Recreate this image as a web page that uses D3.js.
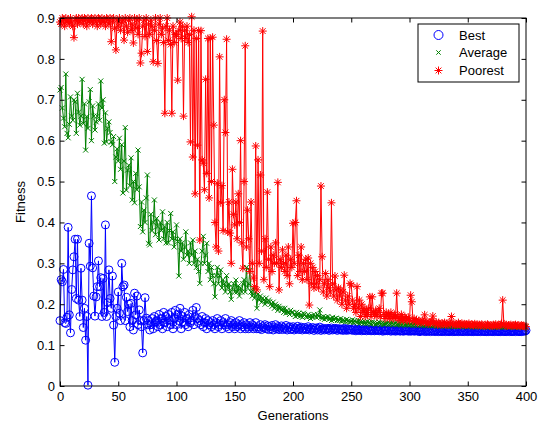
<!DOCTYPE html>
<html>
<head>
<meta charset="utf-8">
<script src="https://cdn.jsdelivr.net/npm/d3@7.9.0/dist/d3.min.js"></script>
<style>
  body { margin: 0; background: #fff; }
  svg { display: block; }
  text { font-family: "Liberation Sans", Arial, sans-serif; font-size: 13px; fill: #000; }
</style>
</head>
<body>
<div id="chart"></div>
<script>
// fitness per generation, index = generation 0..400
const best = [
  0.16, 0.26, 0.255, 0.285, 0.155, 0.153, 0.168, 0.388, 0.174, 0.13,
  0.236, 0.284, 0.316, 0.359, 0.214, 0.359, 0.21, 0.17, 0.288, 0.21,
  0.143, 0.19, 0.112, 0.17, 0.002, 0.349, 0.293, 0.465, 0.289, 0.22,
  0.171, 0.218, 0.243, 0.306, 0.243, 0.265, 0.17, 0.263, 0.18, 0.394,
  0.17, 0.204, 0.284, 0.214, 0.19, 0.269, 0.149, 0.058, 0.17, 0.19,
  0.23, 0.178, 0.16, 0.30, 0.243, 0.247, 0.16, 0.217, 0.182, 0.2,
  0.145, 0.202, 0.16, 0.137, 0.227, 0.174, 0.22, 0.15, 0.186, 0.16,
  0.145, 0.081, 0.16, 0.216, 0.166, 0.15, 0.16, 0.137, 0.15, 0.165,
  0.14, 0.17, 0.155, 0.16, 0.145, 0.175, 0.15, 0.165, 0.14, 0.18,
  0.155, 0.17, 0.145, 0.175, 0.16, 0.15, 0.18, 0.14, 0.165, 0.185,
  0.15, 0.175, 0.16, 0.19, 0.14, 0.17, 0.155, 0.18, 0.15, 0.165,
  0.145, 0.175, 0.155, 0.16, 0.185, 0.15, 0.17, 0.192, 0.165, 0.155,
  0.16, 0.15, 0.17, 0.145, 0.155, 0.165, 0.14, 0.16, 0.15, 0.155,
  0.145, 0.16, 0.15, 0.14, 0.155, 0.165, 0.145, 0.15, 0.16, 0.14,
  0.155, 0.15, 0.165, 0.145, 0.15, 0.14, 0.155, 0.16, 0.145, 0.15,
  0.14, 0.155, 0.145, 0.15, 0.16, 0.14, 0.15, 0.145, 0.155, 0.14,
  0.15, 0.145, 0.14, 0.155, 0.145, 0.15, 0.14, 0.145, 0.155, 0.14,
  0.145, 0.14, 0.15, 0.138, 0.145, 0.142, 0.15, 0.14, 0.147, 0.138,
  0.145, 0.14, 0.148, 0.137, 0.143, 0.15, 0.14, 0.145, 0.138, 0.142,
  0.147, 0.138, 0.143, 0.14, 0.148, 0.137, 0.142, 0.145, 0.138, 0.14,
  0.145, 0.137, 0.142, 0.14, 0.146, 0.138, 0.141, 0.144, 0.137, 0.14,
  0.143, 0.138, 0.14, 0.145, 0.137, 0.141, 0.139, 0.143, 0.136, 0.14,
  0.142, 0.137, 0.14, 0.144, 0.136, 0.139, 0.141, 0.137, 0.14, 0.138,
  0.141, 0.136, 0.139, 0.142, 0.137, 0.14, 0.138, 0.141, 0.136, 0.139,
  0.14, 0.137, 0.139, 0.136, 0.141, 0.138, 0.136, 0.14, 0.137, 0.139,
  0.138, 0.136, 0.14, 0.137, 0.135, 0.139, 0.137, 0.136, 0.139, 0.135,
  0.138, 0.136, 0.137, 0.135, 0.139, 0.136, 0.138, 0.135, 0.137, 0.136,
  0.135, 0.138, 0.136, 0.137, 0.135, 0.138, 0.136, 0.134, 0.137, 0.135,
  0.137, 0.135, 0.136, 0.138, 0.134, 0.136, 0.135, 0.137, 0.134, 0.136,
  0.135, 0.137, 0.134, 0.136, 0.135, 0.134, 0.137, 0.135, 0.136, 0.134,
  0.136, 0.134, 0.135, 0.137, 0.134, 0.135, 0.136, 0.134, 0.135, 0.133,
  0.135, 0.136, 0.134, 0.135, 0.133, 0.136, 0.134, 0.135, 0.133, 0.135,
  0.134, 0.135, 0.133, 0.136, 0.134, 0.133, 0.135, 0.134, 0.133, 0.135,
  0.134, 0.133, 0.135, 0.134, 0.133, 0.134, 0.135, 0.133, 0.134, 0.133,
  0.135, 0.134, 0.133, 0.134, 0.135, 0.133, 0.134, 0.133, 0.135, 0.134,
  0.133, 0.134, 0.135, 0.133, 0.134, 0.133, 0.134, 0.135, 0.133, 0.134,
  0.134, 0.133, 0.134, 0.135, 0.133, 0.134, 0.133, 0.134, 0.133, 0.135,
  0.134, 0.133, 0.134, 0.133, 0.135, 0.134, 0.133, 0.134, 0.133, 0.134,
  0.135, 0.133, 0.134, 0.133, 0.134, 0.135, 0.133, 0.134, 0.133, 0.134,
  0.134, 0.133, 0.135, 0.134, 0.133, 0.134, 0.133, 0.134, 0.135, 0.134,
  0.136
];

const average = [
  0.724, 0.73, 0.68, 0.655, 0.634, 0.763, 0.618, 0.607, 0.64, 0.707,
  0.66, 0.65, 0.70, 0.695, 0.618, 0.716, 0.67, 0.638, 0.66, 0.75,
  0.642, 0.69, 0.577, 0.659, 0.63, 0.695, 0.725, 0.60, 0.685, 0.66,
  0.626, 0.646, 0.66, 0.69, 0.65, 0.746, 0.68, 0.70, 0.594, 0.668,
  0.597, 0.63, 0.646, 0.62, 0.597, 0.59, 0.61, 0.50, 0.56, 0.58,
  0.55, 0.606, 0.53, 0.59, 0.472, 0.55, 0.632, 0.479, 0.528, 0.54,
  0.49, 0.558, 0.455, 0.50, 0.448, 0.52, 0.48, 0.577, 0.487, 0.39,
  0.45, 0.377, 0.43, 0.40, 0.46, 0.516, 0.349, 0.345, 0.42, 0.38,
  0.40, 0.455, 0.37, 0.41, 0.39, 0.357, 0.40, 0.38, 0.426, 0.36,
  0.39, 0.35, 0.40, 0.35, 0.38, 0.422, 0.36, 0.377, 0.34, 0.36,
  0.394, 0.353, 0.269, 0.36, 0.33, 0.35, 0.31, 0.34, 0.377, 0.32,
  0.33, 0.30, 0.35, 0.32, 0.357, 0.30, 0.33, 0.29, 0.31, 0.28,
  0.251, 0.30, 0.33, 0.366, 0.30, 0.32, 0.349, 0.28, 0.30, 0.26,
  0.29, 0.27, 0.25, 0.218, 0.27, 0.29, 0.25, 0.27, 0.284, 0.24,
  0.26, 0.25, 0.23, 0.27, 0.24, 0.25, 0.23, 0.212, 0.24, 0.25,
  0.23, 0.259, 0.23, 0.245, 0.22, 0.24, 0.23, 0.25, 0.26, 0.23,
  0.29, 0.24, 0.25, 0.284, 0.23, 0.22, 0.24, 0.215, 0.23, 0.19,
  0.225, 0.21, 0.22, 0.205, 0.215, 0.21, 0.2, 0.215, 0.205, 0.21,
  0.206, 0.2, 0.195, 0.205, 0.19, 0.2, 0.195, 0.185, 0.195, 0.19,
  0.185, 0.19, 0.18, 0.19, 0.178, 0.185, 0.18, 0.175, 0.185, 0.18,
  0.18, 0.175, 0.17, 0.18, 0.172, 0.178, 0.17, 0.175, 0.168, 0.178,
  0.175, 0.17, 0.168, 0.175, 0.17, 0.165, 0.172, 0.168, 0.175, 0.17,
  0.168, 0.175, 0.17, 0.186, 0.168, 0.165, 0.17, 0.163, 0.168, 0.165,
  0.17, 0.163, 0.165, 0.16, 0.168, 0.162, 0.165, 0.166, 0.16, 0.163,
  0.16, 0.165, 0.158, 0.162, 0.16, 0.157, 0.163, 0.158, 0.16, 0.156,
  0.158, 0.162, 0.155, 0.16, 0.157, 0.155, 0.16, 0.153, 0.158, 0.155,
  0.157, 0.153, 0.156, 0.152, 0.158, 0.154, 0.155, 0.151, 0.156, 0.153,
  0.155, 0.151, 0.154, 0.152, 0.156, 0.15, 0.153, 0.155, 0.151, 0.153,
  0.152, 0.154, 0.15, 0.153, 0.151, 0.155, 0.15, 0.152, 0.154, 0.15,
  0.152, 0.15, 0.153, 0.149, 0.151, 0.153, 0.149, 0.151, 0.15, 0.152,
  0.149, 0.151, 0.15, 0.148, 0.152, 0.149, 0.15, 0.148, 0.151, 0.149,
  0.15, 0.148, 0.15, 0.147, 0.149, 0.15, 0.147, 0.149, 0.148, 0.15,
  0.147, 0.149, 0.148, 0.146, 0.149, 0.147, 0.148, 0.146, 0.149, 0.147,
  0.148, 0.146, 0.148, 0.147, 0.145, 0.148, 0.146, 0.147, 0.145, 0.148,
  0.146, 0.147, 0.145, 0.148, 0.146, 0.145, 0.147, 0.146, 0.145, 0.147,
  0.145, 0.146, 0.147, 0.145, 0.146, 0.144, 0.146, 0.145, 0.147, 0.145,
  0.146, 0.144, 0.146, 0.145, 0.144, 0.146, 0.145, 0.144, 0.146, 0.145,
  0.144, 0.146, 0.145, 0.144, 0.145, 0.146, 0.144, 0.145, 0.144, 0.146,
  0.145, 0.144, 0.145, 0.146, 0.144, 0.145, 0.144, 0.146, 0.145, 0.144,
  0.145, 0.144, 0.146, 0.145, 0.144, 0.145, 0.144, 0.145, 0.146, 0.144,
  0.145
];

const poorest = [
  0.89, 0.885, 0.9, 0.895, 0.88, 0.9, 0.89, 0.895, 0.885, 0.9,
  0.89, 0.88, 0.852, 0.895, 0.9, 0.885, 0.9, 0.89, 0.895, 0.9,
  0.885, 0.9, 0.895, 0.88, 0.9, 0.89, 0.895, 0.9, 0.885, 0.895,
  0.9, 0.89, 0.88, 0.9, 0.895, 0.885, 0.9, 0.89, 0.895, 0.88,
  0.9, 0.895, 0.885, 0.9, 0.842, 0.89, 0.9, 0.875, 0.822, 0.895,
  0.88, 0.9, 0.87, 0.89, 0.895, 0.846, 0.9, 0.88, 0.865, 0.895,
  0.9, 0.87, 0.885, 0.839, 0.9, 0.875, 0.895, 0.86, 0.9, 0.79,
  0.814, 0.88, 0.895, 0.855, 0.9, 0.818, 0.885, 0.86, 0.895, 0.88,
  0.793, 0.87, 0.9, 0.845, 0.789, 0.885, 0.9, 0.86, 0.875, 0.84,
  0.667, 0.88, 0.9, 0.845, 0.87, 0.835, 0.667, 0.88, 0.84, 0.86,
  0.86, 0.748, 0.87, 0.89, 0.85, 0.88, 0.66, 0.87, 0.85, 0.88,
  0.84, 0.86, 0.597, 0.903, 0.56, 0.87, 0.47, 0.85, 0.589, 0.869,
  0.357, 0.869, 0.553, 0.545, 0.48, 0.75, 0.52, 0.85, 0.46, 0.85,
  0.50, 0.853, 0.638, 0.40, 0.34, 0.496, 0.33, 0.805, 0.448, 0.49,
  0.38, 0.70, 0.62, 0.848, 0.377, 0.45, 0.374, 0.30, 0.53, 0.42,
  0.394, 0.45, 0.36, 0.47, 0.40, 0.60, 0.35, 0.288, 0.50, 0.832,
  0.34, 0.43, 0.36, 0.28, 0.45, 0.30, 0.264, 0.243, 0.587, 0.235,
  0.553, 0.30, 0.516, 0.33, 0.868, 0.26, 0.36, 0.29, 0.474, 0.31,
  0.243, 0.34, 0.28, 0.32, 0.30, 0.35, 0.30, 0.498, 0.235, 0.31,
  0.29, 0.333, 0.30, 0.28, 0.32, 0.27, 0.34, 0.25, 0.31, 0.29,
  0.398, 0.30, 0.40, 0.453, 0.27, 0.32, 0.28, 0.34, 0.26, 0.30,
  0.28, 0.31, 0.26, 0.313, 0.198, 0.30, 0.25, 0.29, 0.24, 0.28,
  0.25, 0.27, 0.24, 0.26, 0.489, 0.316, 0.23, 0.25, 0.275, 0.22,
  0.26, 0.24, 0.23, 0.448, 0.25, 0.22, 0.269, 0.235, 0.21, 0.24,
  0.22, 0.235, 0.20, 0.23, 0.271, 0.21, 0.19, 0.22, 0.20, 0.251,
  0.247, 0.21, 0.19, 0.20, 0.18, 0.243, 0.19, 0.21, 0.17, 0.20,
  0.18, 0.19, 0.17, 0.185, 0.175, 0.19, 0.218, 0.17, 0.218, 0.18,
  0.175, 0.185, 0.17, 0.18, 0.19, 0.17, 0.227, 0.227, 0.175, 0.165,
  0.18, 0.17, 0.175, 0.165, 0.18, 0.17, 0.165, 0.175, 0.17, 0.227,
  0.165, 0.17, 0.16, 0.175, 0.165, 0.16, 0.17, 0.165, 0.16, 0.168,
  0.16, 0.222, 0.206, 0.16, 0.165, 0.158, 0.162, 0.155, 0.16, 0.158,
  0.155, 0.16, 0.157, 0.174, 0.155, 0.158, 0.152, 0.156, 0.154, 0.158,
  0.171, 0.155, 0.152, 0.156, 0.15, 0.155, 0.152, 0.15, 0.154, 0.151,
  0.155, 0.15, 0.153, 0.15, 0.155, 0.152, 0.17, 0.15, 0.153, 0.15,
  0.152, 0.15, 0.155, 0.151, 0.149, 0.153, 0.15, 0.152, 0.149, 0.151,
  0.15, 0.153, 0.149, 0.151, 0.15, 0.148, 0.152, 0.149, 0.151, 0.148,
  0.15, 0.148, 0.151, 0.149, 0.147, 0.15, 0.148, 0.151, 0.149, 0.147,
  0.149, 0.147, 0.15, 0.148, 0.151, 0.147, 0.149, 0.148, 0.15, 0.153,
  0.21, 0.152, 0.148, 0.15, 0.147, 0.149, 0.148, 0.15, 0.147, 0.149,
  0.148, 0.15, 0.147, 0.149, 0.148, 0.146, 0.149, 0.147, 0.148, 0.146,
  0.145
];

const xTicks = [0, 50, 100, 150, 200, 250, 300, 350, 400];
const yTicks = [0, 0.1, 0.2, 0.3, 0.4, 0.5, 0.6, 0.7, 0.8, 0.9];
const seriesNames = ['Best', 'Average', 'Poorest'];

const width = 544;
const height = 426;
const plot = { left: 60, right: 526, top: 18, bottom: 386 };

const svg = d3
  .select('#chart')
  .append('svg')
  .attr('width', width)
  .attr('height', height);

const x = d3.scaleLinear().domain([0, 400]).range([plot.left, plot.right]);
const y = d3.scaleLinear().domain([0, 0.9]).range([plot.bottom, plot.top]);

// marker shapes, matlab style
const circleMark = (g, r) =>
  g.append('circle').attr('r', r).attr('fill', 'none');
const crossMark = (g, s) =>
  g.append('path').attr('d', `M${-s},${-s}L${s},${s}M${-s},${s}L${s},${-s}`);
const starMark = (g, s) => {
  const d = s * 0.72;
  g.append('path').attr(
    'd',
    `M${-s},0H${s}M0,${-s}V${s}M${-d},${-d}L${d},${d}M${-d},${d}L${d},${-d}`,
  );
};

const series = [
  { name: 'Best', values: best, color: '#0000ff', mark: (g) => circleMark(g, 4) },
  { name: 'Average', values: average, color: '#008000', mark: (g) => crossMark(g, 2.5) },
  { name: 'Poorest', values: poorest, color: '#ff0000', mark: (g) => starMark(g, 4) },
];

const line = d3
  .line()
  .x((d, i) => x(i))
  .y((d) => y(d));

series.forEach((s) => {
  const g = svg.append('g').attr('stroke', s.color).attr('stroke-width', 1);
  g.append('path').attr('d', line(s.values)).attr('fill', 'none');
  g.selectAll('g.pt')
    .data(s.values)
    .join('g')
    .attr('class', 'pt')
    .attr('fill', 'none')
    .attr('transform', (d, i) => `translate(${x(i)},${y(d)})`)
    .each(function () {
      s.mark(d3.select(this));
    });
});

// axes with inward ticks on all four sides
const tick = 4.5;
svg
  .append('g')
  .attr('transform', `translate(0,${plot.bottom})`)
  .call(d3.axisBottom(x).tickValues(xTicks).tickSizeInner(-tick).tickSizeOuter(0).tickPadding(5.5));
svg
  .append('g')
  .attr('transform', `translate(0,${plot.top})`)
  .call(d3.axisTop(x).tickValues(xTicks).tickSizeInner(-tick).tickSizeOuter(0).tickFormat(''));
svg
  .append('g')
  .attr('transform', `translate(${plot.left},0)`)
  .call(d3.axisLeft(y).tickValues(yTicks).tickSizeInner(-tick).tickSizeOuter(0).tickPadding(5).tickFormat(d3.format('~g')));
svg
  .append('g')
  .attr('transform', `translate(${plot.right},0)`)
  .call(d3.axisRight(y).tickValues(yTicks).tickSizeInner(-tick).tickSizeOuter(0).tickFormat(''));

svg.selectAll('.tick text').attr('font-size', 13).attr('font-family', '"Liberation Sans", Arial, sans-serif');
svg.selectAll('.domain').remove();

svg
  .append('rect')
  .attr('x', plot.left)
  .attr('y', plot.top)
  .attr('width', plot.right - plot.left)
  .attr('height', plot.bottom - plot.top)
  .attr('fill', 'none')
  .attr('stroke', '#000');

// axis labels
svg
  .append('text')
  .attr('x', (plot.left + plot.right) / 2)
  .attr('y', 419.5)
  .attr('text-anchor', 'middle')
  .text('Generations');
svg
  .append('text')
  .attr('transform', 'translate(24.5,202) rotate(-90)')
  .attr('text-anchor', 'middle')
  .text('Fitness');

// legend
const legend = svg.append('g');
legend
  .append('rect')
  .attr('x', 418)
  .attr('y', 24)
  .attr('width', 101)
  .attr('height', 58)
  .attr('fill', '#fff')
  .attr('stroke', '#000');
const legendY = [35, 52.5, 70.5];
series.forEach((s, i) => {
  const m = legend
    .append('g')
    .attr('transform', `translate(438.5,${legendY[i]})`)
    .attr('stroke', s.color)
    .attr('fill', 'none');
  if (i === 0) circleMark(m, 4.5);
  else if (i === 1) crossMark(m, 2.2);
  else starMark(m, 4);
  legend
    .append('text')
    .attr('x', 459)
    .attr('y', legendY[i] + 4.6)
    .text(seriesNames[i]);
});
</script>
</body>
</html>
